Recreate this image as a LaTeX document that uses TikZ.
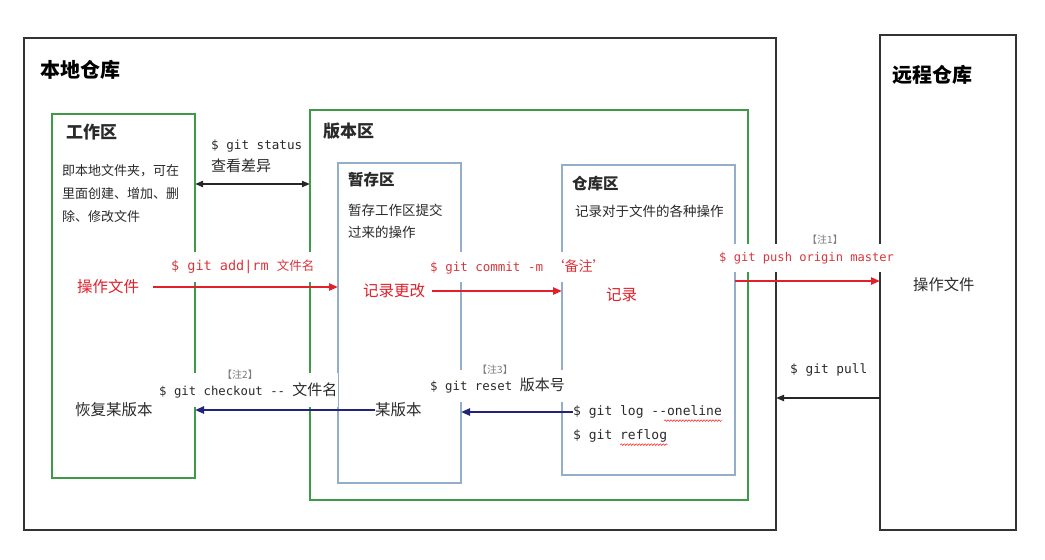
\documentclass[tikz,border=0pt]{standalone}
\usepackage{fontspec}
\setmainfont{Noto Sans CJK SC}
\setmonofont{DejaVu Sans Mono}
\usetikzlibrary{arrows.meta,decorations.pathmorphing,calc}

\definecolor{boxgreen}{HTML}{3E9A46}
\definecolor{boxblue}{HTML}{93AECB}
\definecolor{cmdred}{HTML}{D8363C}
\definecolor{arrred}{HTML}{E0202A}
\definecolor{navyline}{HTML}{22237A}
\definecolor{ink}{HTML}{2A2A2A}
\definecolor{notegray}{HTML}{7A7A7A}

\newcommand{\fs}[1]{\fontsize{#1}{#1}\selectfont}

\begin{document}
\begin{tikzpicture}[x=1pt,y=-1pt,
  frame/.style={draw=black!80,line width=2pt,anchor=north west,inner sep=0pt,outer sep=0pt},
  gbox/.style={draw=boxgreen,line width=2pt,anchor=north west,inner sep=0pt,outer sep=0pt},
  bbox/.style={draw=boxblue,line width=1.5pt,anchor=north west,inner sep=0pt,outer sep=0pt},
  bigtitle/.style={anchor=west,inner sep=0pt,text=black,font=\bfseries\fs{20}},
  areatitle/.style={anchor=west,inner sep=0pt,text=ink,font=\bfseries\fs{17}},
  subtitle/.style={anchor=west,inner sep=0pt,text=ink,font=\bfseries\fs{15.5}},
  desc/.style={anchor=west,inner sep=0pt,text=ink,font=\fs{13}},
  act/.style={anchor=west,inner sep=0pt,font=\fs{15.5}},
  cmd/.style={anchor=west,inner sep=0pt,fill=white,inner ysep=8pt,inner xsep=1pt},
  note/.style={inner sep=1pt,fill=white,text=notegray,font=\fs{10}},
  redarrow/.style={draw=arrred,line width=2.2pt,-{Triangle[length=9pt,width=7pt]}},
  navyarrow/.style={draw=navyline,line width=2.2pt,-{Triangle[length=9pt,width=7pt]}},
  blackarrow/.style={draw=black!85,line width=1.8pt,-{Triangle[length=8pt,width=6pt]}},
  wavy/.style={draw=red!80,line width=0.6pt,decorate,decoration={snake,amplitude=0.8pt,segment length=3pt}}
]
\useasboundingbox (0,0) rectangle (1045,560);
\fill[white] (0,0) rectangle (1045,560);

% containers
\node[frame, minimum width=752pt, minimum height=492pt] (local) at (24,38) {};
\node[frame, minimum width=136pt, minimum height=495pt] (remote) at (880,35) {};
\node[gbox, minimum width=143pt, minimum height=364pt] (work) at (52,114) {};
\node[gbox, minimum width=438pt, minimum height=390pt] (ver) at (310,110) {};
\node[bbox, minimum width=123pt, minimum height=320pt] (stage) at (338,163) {};
\node[bbox, minimum width=173pt, minimum height=310pt] (repo) at (562,165) {};

% titles
\node[bigtitle] (localT) at (40,70) {本地仓库};
\node[bigtitle] (remoteT) at (892,75) {远程仓库};
\node[areatitle] (workT) at (66,132) {工作区};
\node[areatitle] (verT) at (323,131) {版本区};
\node[subtitle] (stageT) at (348,180) {暂存区};
\node[subtitle] (repoT) at (572,184) {仓库区};

% descriptions
\node[desc] (wd1) at (62,171) {即本地文件夹，可在};
\node[desc] (wd2) at (62,194) {里面创建、增加、删};
\node[desc] (wd3) at (62,217) {除、修改文件};
\node[desc,font=\fs{13.5}] (sd1) at (348,210) {暂存工作区提交};
\node[desc,font=\fs{13.5}] (sd2) at (348,232) {过来的操作};
\node[desc,font=\fs{13.5}] (rd1) at (575,211) {记录对于文件的各种操作};

% git status
\node[anchor=west,inner sep=0pt,text=ink] (status) at (211,146) {\ttfamily\fs{12.6}\$ git status};
\node[anchor=west,inner sep=0pt,text=ink,font=\fs{15}] (diff) at (211,166) {查看差异};
\draw[black!85,line width=1.8pt,{Triangle[length=8pt,width=6pt]}-{Triangle[length=8pt,width=6pt]}]
  (work.east |- 0,184) -- (ver.west |- 0,184);

% forward path (red)
\node[act,text=arrred] (op) at (77,287) {操作文件};
\node[act,text=arrred] (chg) at (363,291) {记录更改};
\node[act,text=arrred] (rec) at (606,295) {记录};
\node[cmd,text=cmdred] (add) at (170,267) {{\ttfamily\fs{13.5}\$ git add|rm }{\fs{12.5}文件名}};
\node[cmd,text=cmdred] (commit) at (429,267) {{\ttfamily\fs{12.5}\$ git commit -m }{\fs{14}‘备注’}};
\draw[redarrow] ([xshift=14pt]op.east) -- (stage.west |- op.east);
\draw[redarrow] ([xshift=7pt]chg.east) -- (repo.west |- chg.east);

% push / pull
\node[cmd,text=cmdred] (push) at (718,258) {\ttfamily\fs{12.1}\$ git push origin master};
\node[note] (n1) at (825,240) {【注1】};
\node[act,text=ink,font=\fs{15.3}] (remop) at (913,285) {操作文件};
\draw[redarrow] (repo.east |- 0,281) -- (remote.west |- 0,281);
\node[anchor=west,inner sep=0pt,text=ink] (pull) at (790,370) {\ttfamily\fs{12.8}\$ git pull};
\draw[blackarrow] (remote.west |- 0,398) -- (local.east |- 0,398);

% backward path (navy)
\node[act,text=ink] (restore) at (75,410) {恢复某版本};
\node[act,text=ink] (ver1) at (375,410) {某版本};
\node[cmd,text=ink,inner ysep=9pt] (checkout) at (158,390) {{\ttfamily\fs{12.3}\$ git checkout -{}- }{\fs{15}文件名}};
\node[note] (n2) at (240,375) {【注2】};
\draw[navyarrow] (ver1.west) -- (work.east |- ver1.west);

\node[cmd,text=ink,inner ysep=8pt] (reset) at (429,386) {{\ttfamily\fs{12.4}\$ git reset }{\fs{15}版本号}};
\node[note] (n3) at (495,370) {【注3】};
\node[anchor=west,inner sep=0pt,text=ink] (log) at (573,412) {\ttfamily\fs{13}\$ git log -{}-oneline};
\node[anchor=west,inner sep=0pt,text=ink] (reflog) at (573,436) {\ttfamily\fs{13}\$ git reflog};
\draw[navyarrow] (log.west) -- (stage.east |- log.west);

% spell-check underlines
\draw[wavy] ($(log.south east)+(-58,2)$) -- ($(log.south east)+(0,2)$);
\draw[wavy] ($(reflog.south east)+(-47,2)$) -- ($(reflog.south east)+(0,2)$);

\end{tikzpicture}
\end{document}
